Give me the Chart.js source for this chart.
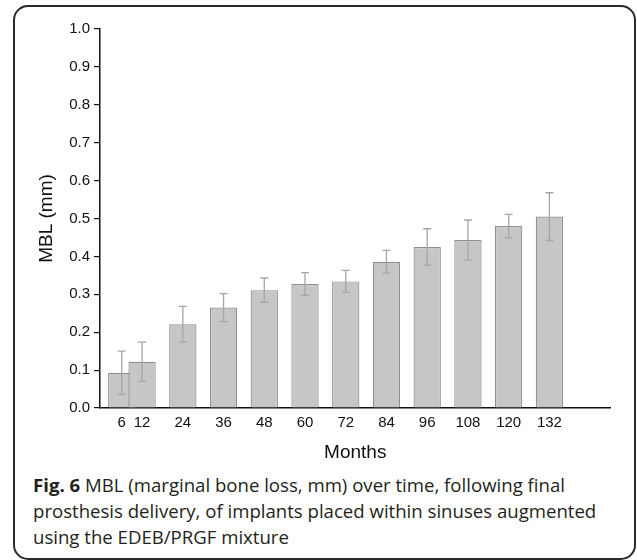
<!DOCTYPE html>
<html>
<head>
<meta charset="utf-8">
<script src="https://cdn.jsdelivr.net/npm/chart.js@4.4.1/dist/chart.umd.min.js"></script>
<style>
  html, body { margin: 0; padding: 0; background: #fff; width: 637px; height: 560px; overflow: hidden; }
  #frame { position: absolute; left: 13px; top: 5px; width: 623px; height: 555px; box-sizing: border-box;
           border: 2px solid #2a2a2a; border-radius: 15px; }
  #wrap { position: absolute; left: 0; top: 0; width: 637px; height: 470px; }
  #caption { position: absolute; left: 33px; top: 472px; font-family: "Open Sans", sans-serif; font-size: 18.6px;
             line-height: 26px; color: #231f20; white-space: nowrap; }
  #caption b { font-weight: 700; }
</style>
</head>
<body>
<div id="frame"></div>
<div id="wrap"><canvas id="c" width="637" height="470"></canvas></div>
<div id="caption"><b>Fig. 6</b> MBL (marginal bone loss, mm) over time, following final<br>prosthesis delivery, of implants placed within sinuses augmented<br>using the EDEB/PRGF mixture</div>
<script>
// ---- data ----
const months = [6, 12, 24, 36, 48, 60, 72, 84, 96, 108, 120, 132];
const mbl    = [0.093, 0.122, 0.221, 0.265, 0.311, 0.327, 0.334, 0.386, 0.425, 0.443, 0.480, 0.505];
const sd     = [0.057, 0.052, 0.047, 0.037, 0.032, 0.030, 0.029, 0.030, 0.048, 0.053, 0.031, 0.063];
const yTicks = [0, 0.1, 0.2, 0.3, 0.4, 0.5, 0.6, 0.7, 0.8, 0.9, 1.0];
const xTicks = months;

const errorBars = {
  id: 'errorBars',
  afterDatasetsDraw(chart) {
    const ctx = chart.ctx;
    const meta = chart.getDatasetMeta(0);
    const ys = chart.scales.y;
    ctx.save();
    ctx.strokeStyle = '#a6a6a6';
    ctx.lineWidth = 1.3;
    meta.data.forEach((bar, i) => {
      const x = bar.x;
      const yTop = ys.getPixelForValue(mbl[i] + sd[i]);
      const yBot = ys.getPixelForValue(mbl[i] - sd[i]);
      const cap = 4;
      ctx.beginPath();
      ctx.moveTo(x, yTop); ctx.lineTo(x, yBot);
      ctx.moveTo(x - cap, yTop); ctx.lineTo(x + cap, yTop);
      ctx.moveTo(x - cap, yBot); ctx.lineTo(x + cap, yBot);
      ctx.stroke();
    });
    ctx.restore();
  }
};

const tickFont = { family: 'Liberation Sans, Arial, sans-serif', size: 15 };
const titleFont = { family: 'Liberation Sans, Arial, sans-serif', size: 19 };

new Chart(document.getElementById('c'), {
  type: 'bar',
  data: {
    datasets: [{
      data: months.map((m, i) => ({ x: m, y: mbl[i] })),
      backgroundColor: '#c6c6c6',
      borderColor: '#8e8e8e',
      borderWidth: 1.2,
      borderSkipped: 'bottom',
      categoryPercentage: 1.0,
      barPercentage: 1.34
    }]
  },
  options: {
    responsive: false,
    animation: false,
    events: [],
    layout: { padding: { left: 0, right: 26.5, top: 29, bottom: 0 } },
    plugins: { legend: { display: false }, tooltip: { enabled: false } },
    scales: {
      x: {
        type: 'linear',
        offset: false,
        min: -0.4,
        max: 150,
        afterBuildTicks: (s) => { s.ticks = xTicks.map(v => ({ value: v })); },
        afterFit: (s) => { s.height = 62; },
        grid: { display: true, drawOnChartArea: false, drawTicks: false },
        border: { display: true, color: '#111', width: 1.5 },
        ticks: { font: tickFont, color: '#111', padding: 6, maxRotation: 0, autoSkip: false,
                 callback: (v) => String(v) },
        title: { display: true, text: 'Months', font: titleFont, color: '#111', padding: { top: 0, bottom: 6 } }
      },
      y: {
        type: 'linear',
        min: 0,
        max: 1,
        afterBuildTicks: (s) => { s.ticks = yTicks.map(v => ({ value: v })); },
        afterFit: (s) => { s.width = 100; },
        grid: { display: true, drawOnChartArea: false, drawTicks: true, tickLength: 6, color: '#111', lineWidth: 1.2 },
        border: { display: true, color: '#111', width: 1.5 },
        ticks: { font: tickFont, color: '#111', padding: 4, callback: (v) => Number(v).toFixed(1) },
        title: { display: true, text: 'MBL (mm)', font: titleFont, color: '#111', padding: { top: 35, bottom: 0 } }
      }
    }
  },
  plugins: [errorBars]
});
</script>
</body>
</html>
